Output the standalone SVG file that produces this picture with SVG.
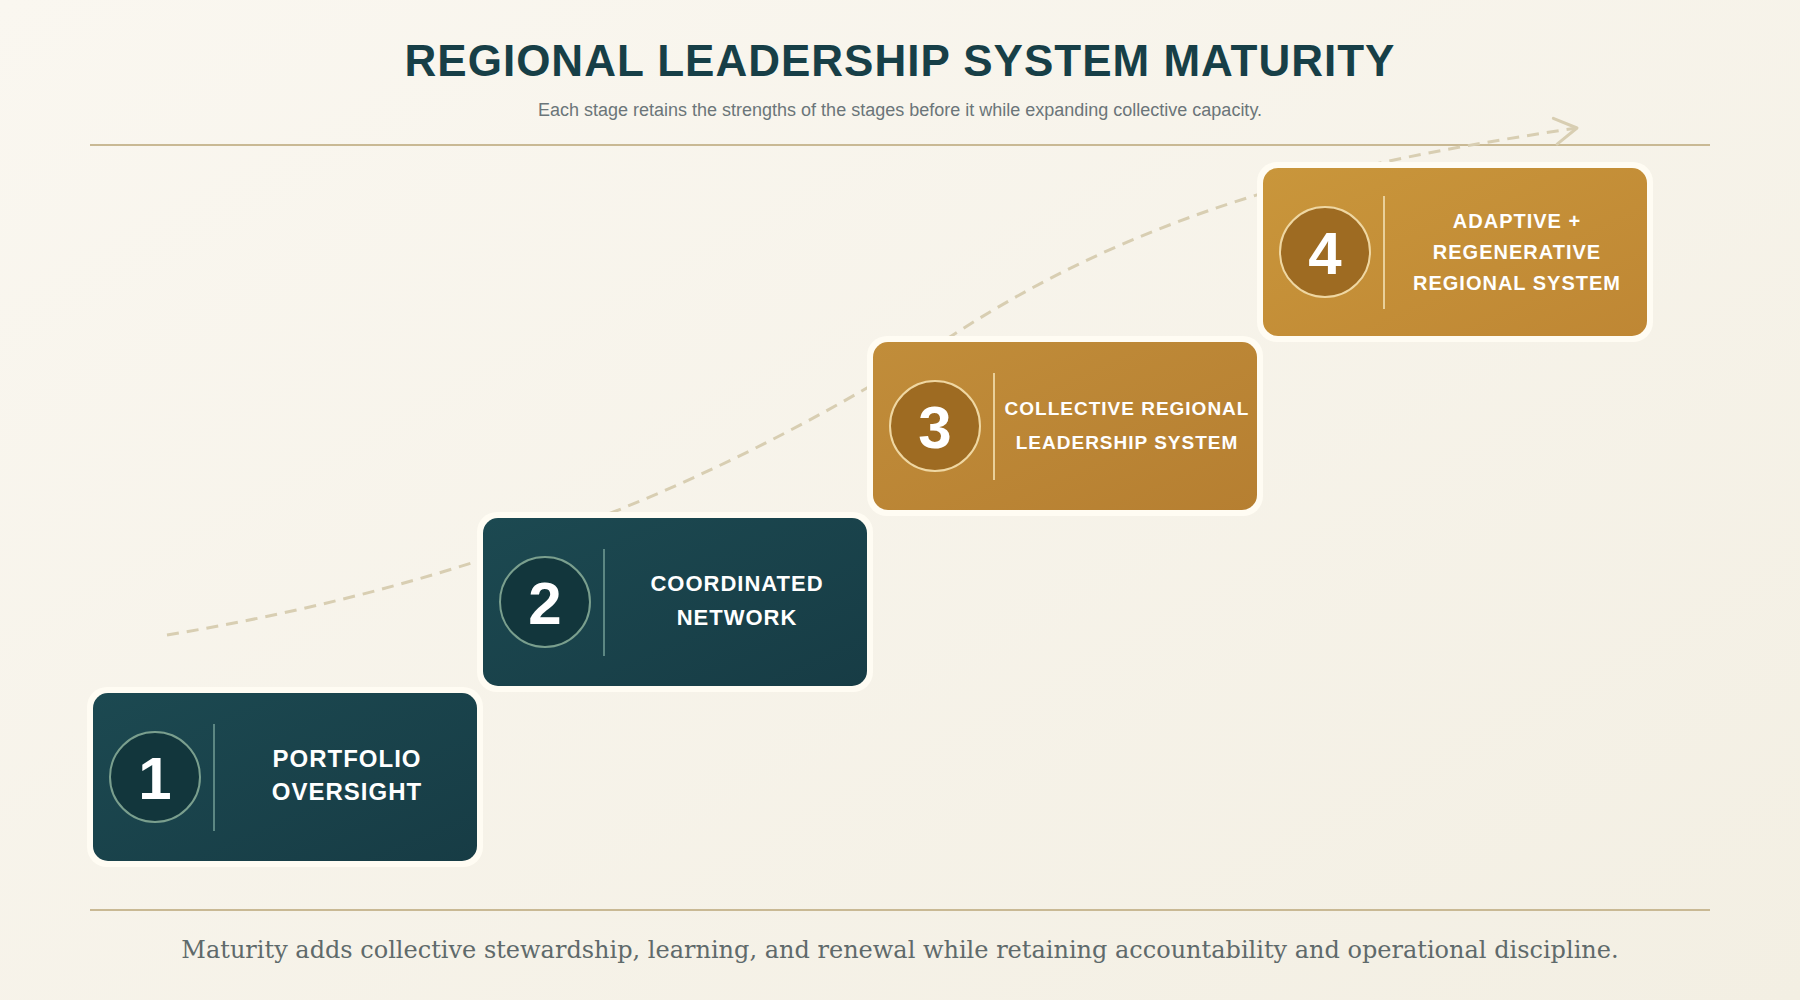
<svg xmlns="http://www.w3.org/2000/svg" width="1800" height="1000" viewBox="0 0 1800 1000">
  <defs>
    <linearGradient id="bg" x1="0" y1="0" x2="1" y2="1">
      <stop offset="0" stop-color="#faf7f0"/>
      <stop offset="1" stop-color="#f3efe3"/>
    </linearGradient>
    <linearGradient id="teal" x1="0" y1="0" x2="1" y2="1">
      <stop offset="0" stop-color="#1c4951"/>
      <stop offset="1" stop-color="#173c45"/>
    </linearGradient>
    <linearGradient id="gold3" x1="0" y1="0" x2="1" y2="1">
      <stop offset="0" stop-color="#c18d3a"/>
      <stop offset="1" stop-color="#b67f31"/>
    </linearGradient>
    <linearGradient id="gold4" x1="0" y1="0" x2="1" y2="1">
      <stop offset="0" stop-color="#c9963b"/>
      <stop offset="1" stop-color="#bf8734"/>
    </linearGradient>
    <marker id="chev" markerUnits="userSpaceOnUse" viewBox="-2 -16 30 32" refX="24" refY="0" markerWidth="30" markerHeight="32" orient="auto" overflow="visible">
      <path d="M2,-13 L24,0 L2,13" fill="none" stroke="#d8ceb2" stroke-width="3" stroke-linecap="round" stroke-linejoin="round"/>
    </marker>
    <style>
      .title { font-family: "Liberation Sans", Arial, sans-serif; font-weight: bold; font-size: 44px; letter-spacing: 1px; fill: #173f47; }
      .sub { font-family: "Liberation Sans", Arial, sans-serif; font-size: 18px; fill: #6b7579; }
      .foot { font-family: "DejaVu Serif", serif; font-size: 24px; fill: #5f6a6b; }
      .rule { stroke: #c9b994; stroke-width: 2; }
      .frame { fill: #fffcf3; }
      .num { font-family: "Liberation Sans", Arial, sans-serif; font-weight: bold; font-size: 60px; fill: #ffffff; text-anchor: middle; }
      .lbl { font-family: "Liberation Sans", Arial, sans-serif; font-weight: bold; fill: #ffffff; text-anchor: middle; letter-spacing: 1px; }
      .tcirc { fill: #12363c; stroke: #7a9f8e; stroke-width: 2; }
      .gcirc { fill: #9e6b22; stroke: #efd7a2; stroke-width: 2; }
      .tdiv { stroke: #5c8783; stroke-width: 2; }
      .gdiv { stroke: #e9d09a; stroke-width: 2; }
      .path { fill: none; stroke: #d8ceb2; stroke-width: 3; stroke-dasharray: 12 8; }
    </style>
  </defs>

  <rect width="1800" height="1000" fill="url(#bg)"/>

  <g id="header">
    <text class="title" x="900" y="76" text-anchor="middle">REGIONAL LEADERSHIP SYSTEM MATURITY</text>
    <text class="sub" x="900" y="116" text-anchor="middle">Each stage retains the strengths of the stages before it while expanding collective capacity.</text>
    <line class="rule" x1="90" y1="145" x2="1710" y2="145"/>
  </g>

  <g id="connectors">
    <path class="path" d="M167,635 C429,592 691,505 953,335 C1161,200 1369,159 1577,128" marker-end="url(#chev)"/>
  </g>

  <g id="stage1">
    <rect class="frame" x="87" y="687" width="396" height="180" rx="20"/>
    <rect x="93" y="693" width="384" height="168" rx="15" fill="url(#teal)"/>
    <circle class="tcirc" cx="155" cy="777" r="45"/>
    <text class="num" x="155" y="799">1</text>
    <line class="tdiv" x1="214" y1="724" x2="214" y2="831"/>
    <text class="lbl" font-size="24" x="347" y="767">PORTFOLIO</text>
    <text class="lbl" font-size="24" x="347" y="800">OVERSIGHT</text>
  </g>

  <g id="stage2">
    <rect class="frame" x="477" y="512" width="396" height="180" rx="20"/>
    <rect x="483" y="518" width="384" height="168" rx="15" fill="url(#teal)"/>
    <circle class="tcirc" cx="545" cy="602" r="45"/>
    <text class="num" x="545" y="624">2</text>
    <line class="tdiv" x1="604" y1="549" x2="604" y2="656"/>
    <text class="lbl" font-size="22" x="737" y="591">COORDINATED</text>
    <text class="lbl" font-size="22" x="737" y="625">NETWORK</text>
  </g>

  <g id="stage3">
    <rect class="frame" x="867" y="336" width="396" height="180" rx="20"/>
    <rect x="873" y="342" width="384" height="168" rx="15" fill="url(#gold3)"/>
    <circle class="gcirc" cx="935" cy="426" r="45"/>
    <text class="num" x="935" y="448">3</text>
    <line class="gdiv" x1="994" y1="373" x2="994" y2="480"/>
    <text class="lbl" font-size="19" x="1127" y="415">COLLECTIVE REGIONAL</text>
    <text class="lbl" font-size="19" x="1127" y="449">LEADERSHIP SYSTEM</text>
  </g>

  <g id="stage4">
    <rect class="frame" x="1257" y="162" width="396" height="180" rx="20"/>
    <rect x="1263" y="168" width="384" height="168" rx="15" fill="url(#gold4)"/>
    <circle class="gcirc" cx="1325" cy="252" r="45"/>
    <text class="num" x="1325" y="274">4</text>
    <line class="gdiv" x1="1384" y1="196" x2="1384" y2="309"/>
    <text class="lbl" font-size="20" x="1517" y="228">ADAPTIVE +</text>
    <text class="lbl" font-size="20" x="1517" y="259">REGENERATIVE</text>
    <text class="lbl" font-size="20" x="1517" y="290">REGIONAL SYSTEM</text>
  </g>

  <g id="footer">
    <line class="rule" x1="90" y1="910" x2="1710" y2="910"/>
    <text class="foot" x="900" y="958" text-anchor="middle">Maturity adds collective stewardship, learning, and renewal while retaining accountability and operational discipline.</text>
  </g>
</svg>
